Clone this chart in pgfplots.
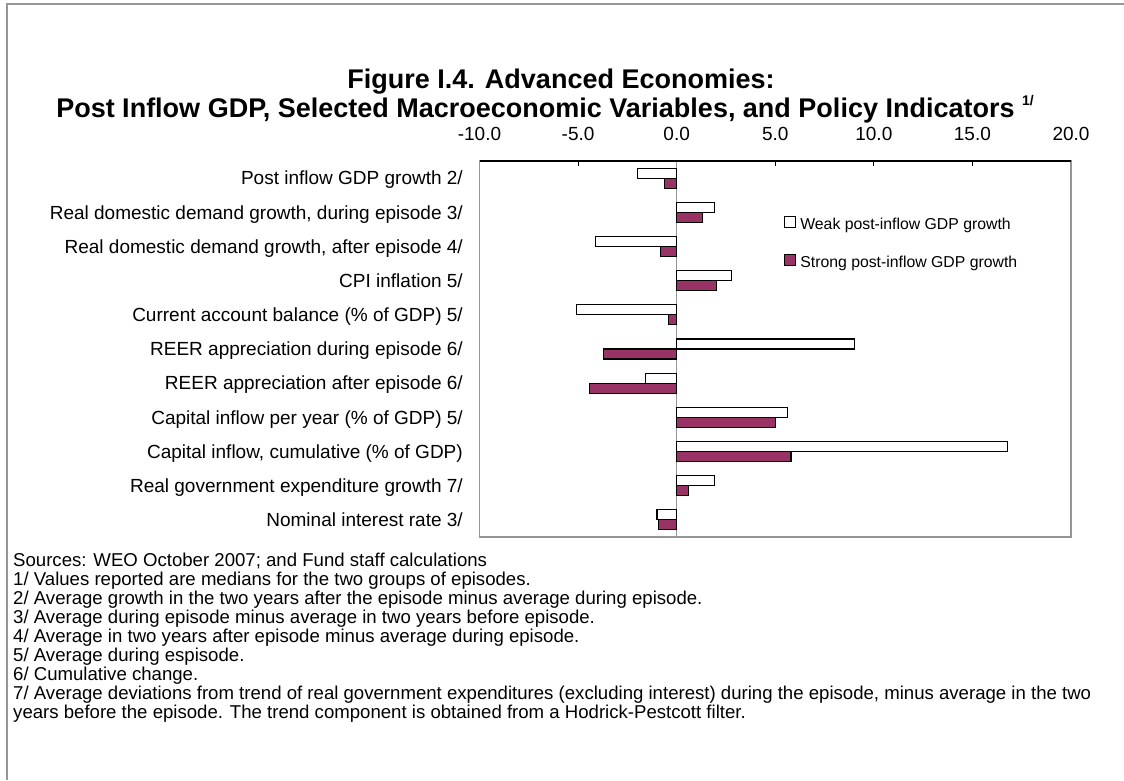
\documentclass[border=0pt]{standalone}
\usepackage{fontspec}
\setmainfont{Liberation Sans}
\usepackage{pgfplots}
\pgfplotsset{compat=1.18}
\definecolor{plum}{RGB}{153,51,102}
\definecolor{framegray}{RGB}{150,150,150}
\begin{document}
\begin{tikzpicture}[x=1pt,y=1pt]
\useasboundingbox (0,0) rectangle (1124,780);
\draw[framegray, line width=1.2pt] (7,0) -- (7,776) -- (1124,776);
\node[anchor=base, font=\fontsize{27}{30}\selectfont\bfseries] at (561,780-88.5) {Figure I.4. Advanced Economies:};
\node[anchor=base, font=\fontsize{27}{30}\selectfont\bfseries] at (545,780-117.5) {Post Inflow GDP, Selected Macroeconomic Variables, and Policy Indicators \raisebox{0.45em}{\fontsize{14}{14}\selectfont 1/}};
\begin{axis}[
  at={(479.5pt,243pt)}, anchor=south west,
  scale only axis, width=591.5pt, height=376pt,
  xmin=-10, xmax=20, ymin=-0.5, ymax=10.5,
  xbar, bar width=10pt,
  xtick={-10,-5,0,5,10,15,20},
  xtick pos=right, xticklabel pos=right,
  tick align=inside, major tick length=5pt,
  tick style={black, line width=1pt},
  xticklabel style={anchor=base, yshift=20pt, inner sep=0pt, font=\fontsize{19}{19}\selectfont},
  /pgf/number format/assume math mode=true,
  /pgf/number format/.cd, fixed, fixed zerofill, precision=1, /pgfplots/.cd,
  ytick={0,1,2,3,4,5,6,7,8,9,10},
  yticklabels={Nominal interest rate 3/,
    Real government expenditure growth 7/,
    {Capital inflow, cumulative (\% of GDP)},
    Capital inflow per year (\% of GDP) 5/,
    REER appreciation after episode 6/,
    REER appreciation during episode 6/,
    Current account balance (\% of GDP) 5/,
    CPI inflation 5/,
    {Real domestic demand growth, after episode 4/},
    {Real domestic demand growth, during episode 3/},
    Post inflow GDP growth 2/},
  ytick style={draw=none},
  yticklabel style={anchor=base east, inner sep=0pt, xshift=-16.5pt, yshift=-6.8pt, font=\fontsize{19}{19}\selectfont},
  axis line style={framegray, line width=1.2pt},
  legend style={at={(rel axis cs:0.515,0.855)}, anchor=north west, draw=none, fill=none,
    font=\fontsize{15.8}{16}\selectfont, row sep=21pt, column sep=4pt, inner sep=0pt,
    nodes={inner sep=0pt, text height=11pt, text depth=3pt}},
  legend cell align=left,
  legend image code/.code={\draw[#1, line width=1pt] (0pt,-1.5pt) rectangle (11pt,9.5pt);},
]
\draw[framegray, line width=1.2pt] (axis cs:0,-0.5) -- (axis cs:0,10.5);
\addplot[draw=black, fill=white, line width=1.1pt, bar shift=5pt] coordinates {
  (-2.0,10) (1.9,9) (-4.1,8) (2.8,7) (-5.1,6) (9.0,5) (-1.6,4) (5.6,3) (16.8,2) (1.9,1) (-1.0,0)};
\addlegendentry{Weak post-inflow GDP growth}
\addplot[draw=black, fill=plum, line width=1.1pt, bar shift=-5pt] coordinates {
  (-0.6,10) (1.3,9) (-0.8,8) (2.0,7) (-0.4,6) (-3.7,5) (-4.4,4) (5.0,3) (5.8,2) (0.6,1) (-0.9,0)};
\addlegendentry{Strong post-inflow GDP growth}
\draw[black, line width=1.3pt] (rel axis cs:0,1) -- (rel axis cs:1,1);
\end{axis}
\node[anchor=base west, align=left, inner sep=0pt, font=\fontsize{18.6}{19}\selectfont] at (13,780-718) {Sources: WEO October 2007; and Fund staff calculations\\
1/ Values reported are medians for the two groups of episodes.\\
2/ Average growth in the two years after the episode minus average during episode.\\
3/ Average during episode minus average in two years before episode.\\
4/ Average in two years after episode minus average during episode.\\
5/ Average during espisode.\\
6/ Cumulative change.\\
7/ Average deviations from trend of real government expenditures (excluding interest) during the episode, minus average in the two\\
years before the episode. The trend component is obtained from a Hodrick-Pestcott filter.};
\end{tikzpicture}
\end{document}
